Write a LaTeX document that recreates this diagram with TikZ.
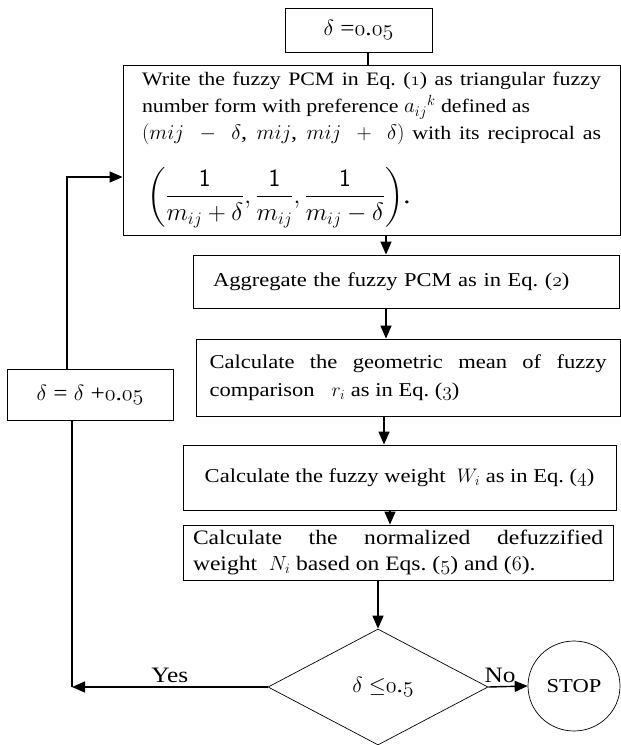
\RequirePackage{fix-cm}
\documentclass[tikz,border=0pt]{standalone}
\usepackage{amsmath}
\usepackage{fontspec}
\setmainfont{Liberation Serif}[FakeStretch=1.15]
\usetikzlibrary{arrows.meta, shapes.geometric}

% old-style figures from the math italic font
\newcommand{\osf}[1]{{\fontencoding{OML}\fontfamily{cmm}\fontseries{m}\fontshape{it}\selectfont #1}}
\newcommand{\fs}[1]{\fontsize{#1}{1.3\dimexpr#1pt\relax}\selectfont}

\begin{document}
\begin{tikzpicture}[
    x=1pt, y=-1pt,
    every node/.style={font=\fs{19.6}},
    procbox/.style={draw, line width=0.9pt, inner ysep=0pt},
    flow/.style={line width=1.4pt, -{Triangle[length=13pt, width=11pt]}},
    link/.style={line width=1.4pt},
]
\useasboundingbox (0,0) rectangle (621,745);

% === Start value ===
\node[procbox, minimum width=147pt, minimum height=44pt, font=\fs{22}] (init) at (358.5,30)
    {$\delta$ =\osf{0}.\osf{05}};

% === Fuzzy PCM ===
\node[procbox, minimum width=497pt, minimum height=170pt, inner xsep=19pt,
      text width=459pt, align=justify, font=\fontsize{19}{27}\selectfont] (pcm) at (371.5,150)
    {Write the fuzzy PCM in Eq.~(\osf{1}) as triangular fuzzy\linebreak
     number form with preference {\fs{21}$a_{ij}{}^{k}$} defined as\newline
     {\fs{21}$(mij\ -\ \delta$, $mij$, $mij\ +\ \delta)$} with its reciprocal as{\parfillskip=0pt\par}
     \vspace{21pt}\noindent\hspace{5pt}%
     {\fs{25}$\left(\dfrac{\mathsf{1}}{m_{ij}+\delta},\dfrac{\mathsf{1}}{m_{ij}},\dfrac{\mathsf{1}}{m_{ij}-\delta}\right)$.}};

% === Steps ===
\node[procbox, minimum width=426pt, minimum height=53pt, inner xsep=20pt,
      text width=386pt, align=left] (agg) at (406,281.5)
    {Aggregate the fuzzy PCM as in Eq.~(\osf{2})};
\node[procbox, minimum width=424pt, minimum height=77pt, inner xsep=13.5pt,
      text width=397pt, align=justify, font=\fontsize{19.6}{28}\selectfont] (geo) at (408,377.5)
    {Calculate the geometric mean of fuzzy\linebreak
     comparison~~ $r_i$ as in Eq.~(\osf{3})};
\node[procbox, minimum width=433pt, minimum height=65pt, align=center] (wgt) at (399.5,477.5)
    {Calculate the fuzzy weight~ $W_i$ as in Eq.~(\osf{4})};
\node[procbox, minimum width=430pt, minimum height=55pt, inner xsep=10pt,
      text width=410pt, align=justify, font=\fontsize{20.5}{26}\selectfont] (norm) at (398,552.5)
    {Calculate the normalized defuzzified\linebreak
     weight~ $N_i$ based on Eqs.~(\osf{5}) and~(\osf{6}).};

% === Decision and end ===
\node[draw, diamond, line width=0.7pt, minimum width=220pt, minimum height=116pt,
      inner sep=0pt, font=\fs{22}] (check) at (378,687) {\hspace{10pt}$\delta\leq$\osf{0}.\osf{5}};
\node[draw, ellipse, line width=0.7pt, minimum width=92pt, minimum height=90pt,
      inner sep=0pt] (stop) at (574,686) {STOP};

% === Increment ===
\node[procbox, minimum width=166pt, minimum height=51pt, font=\fs{22}] (incr) at (90,394.5)
    {$\delta$ = $\delta$ +\osf{0}.\osf{05}};

% === Connectors ===
\coordinate (xa) at (368,0);
\coordinate (xb) at (386,0);
\coordinate (xc) at (384,0);
\coordinate (xd) at (390,0);
\draw[link] (init.south -| xa) -- (pcm.north -| xa);
\draw[flow] (pcm.south -| xb) -- (agg.north -| xb);
\draw[flow] (agg.south -| xb) -- (geo.north -| xb);
\draw[flow] (geo.south -| xc) -- (wgt.north -| xc);
\draw[flow] (wgt.south -| xd) -- (norm.north -| xd);
\draw[flow] (norm.south -| check.north) -- (check.north);
\draw[flow] (check.east) -- node[above, pos=0.3, font=\fs{22}] {No} (stop.west);

% loop back to the PCM step
\coordinate (back) at (72,687);
\coordinate (up) at (67,177);
\draw[flow] (check.west) -- node[above, font=\fs{22}] {Yes} (back);
\draw[link] (back) -- (incr.south -| back);
\draw[flow] (incr.north -| up) |- (pcm.west |- up);

\end{tikzpicture}
\end{document}
